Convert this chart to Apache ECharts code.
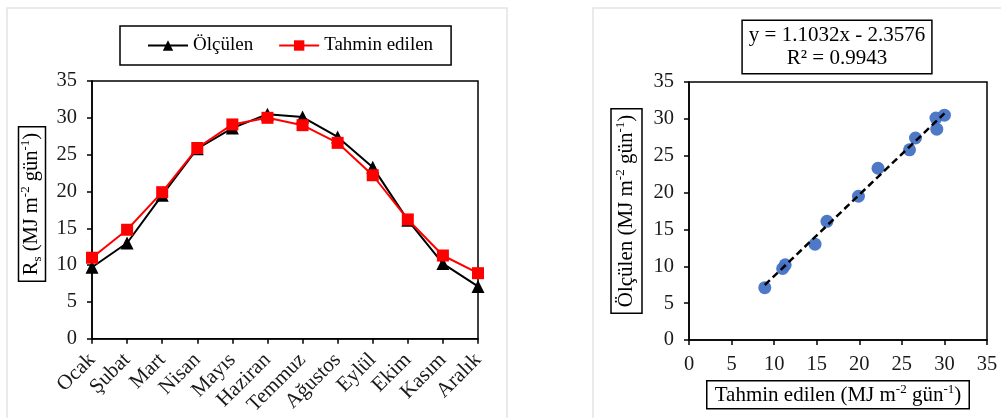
<!DOCTYPE html>
<html><head><meta charset="utf-8">
<script src="https://cdn.jsdelivr.net/npm/echarts@6/dist/echarts.min.js"></script>
<style>html,body{margin:0;padding:0;background:#fff}#c{width:1001px;height:418px}</style>
</head><body><div id="c"></div>
<script>
const months = ['Ocak','Şubat','Mart','Nisan','Mayıs','Haziran','Temmuz','Ağustos','Eylül','Ekim','Kasım','Aralık'];
const olculen = [9.7, 13.0, 19.5, 25.8, 28.6, 30.5, 30.1, 27.4, 23.3, 16.1, 10.2, 7.1];
const tahmin  = [11.0, 14.8, 19.9, 25.9, 29.1, 30.0, 29.0, 26.6, 22.2, 16.2, 11.3, 8.9];
const axisMin = 0, axisMax = 35, axisStep = 5;
const slope = 1.1032, intercept = -2.3576, r2 = 0.9943;
const seriesNames = ['Ölçülen', 'Tahmin edilen'];
const leftYName = '{n|R}{sub|s}{n| (MJ m}{sup|-2}{n| gün}{sup|-1}{n|)}';
const rightYName = '{n|Ölçülen (MJ m}{sup|-2}{n| gün}{sup|-1}{n|)}';
const rightXName = '{n|Tahmin edilen (MJ m}{sup|-2}{n| gün}{sup|-1}{n|)}';

const FF = "'Liberation Serif','Times New Roman',serif";
const FS = 20.5;   // tick labels
const FN = 21;     // axis names / equation
const FL = 19;     // legend
const scatterData = tahmin.map((t, i) => [t, olculen[i]]);
const xs = tahmin.slice().sort((a, b) => a - b);
const trend = [xs[0], xs[xs.length - 1]].map(x => [x, slope * x + intercept]);

function mkRich(fs) {
  return {
    n: {fontFamily: FF, fontSize: fs, color: '#000', fill: '#000', lineHeight: 25},
    sup: {fontFamily: FF, fontSize: 13, color: '#000', fill: '#000', lineHeight: 25, verticalAlign: 'top'},
    sub: {fontFamily: FF, fontSize: 13, color: '#000', fill: '#000', lineHeight: 25, verticalAlign: 'bottom'}
  };
}
const rich = mkRich(FN);
const boxStyle = {fontFamily: FF, fontSize: FN, color: '#000', borderColor: '#000', borderWidth: 1.5, rich: rich};

const chart = echarts.init(document.getElementById('c'), null, {renderer: 'canvas'});
chart.setOption({
  animation: false,
  backgroundColor: '#fff',
  textStyle: {fontFamily: FF},
  graphic: [
    {type: 'rect', shape: {x: 7, y: 8, width: 500, height: 430}, style: {fill: 'none', stroke: '#e3e3e3', lineWidth: 1.5}, z: -10},
    {type: 'rect', shape: {x: 593, y: 8, width: 430, height: 430}, style: {fill: 'none', stroke: '#e3e3e3', lineWidth: 1.5}, z: -10},
    {type: 'text', x: 837, y: 47, style: {
      text: 'y = ' + slope.toFixed(4) + 'x - ' + Math.abs(intercept).toFixed(4) + '\nR² = ' + r2.toFixed(4),
      fontFamily: FF, fontSize: FN, fill: '#000', lineHeight: 23, align: 'center', verticalAlign: 'middle',
      borderColor: '#000', borderWidth: 1.5, padding: [3, 6, 3, 6], backgroundColor: '#fff'
    }},
    {type: 'text', x: 32, y: 204, rotation: Math.PI / 2, style: {
      text: leftYName, rich: mkRich(20.5),
      fontFamily: FF, fontSize: 20.5, fill: '#000', align: 'center', verticalAlign: 'middle',
      borderColor: '#000', borderWidth: 1.5, padding: [1, 6, 1, 6]
    }}
  ],
  legend: {
    data: seriesNames,
    left: 120, top: 26,
    padding: [10, 18, 10, 27],
    borderColor: '#000', borderWidth: 1.5,
    itemWidth: 40, itemHeight: 13, itemGap: 25,
    textStyle: {fontFamily: FF, fontSize: FL, color: '#000'}
  },
  grid: [
    {left: 92, right: 523, top: 81, bottom: 79, show: true, borderColor: '#000', borderWidth: 1.5, containLabel: false},
    {left: 689, right: 14, top: 82, bottom: 78, show: true, borderColor: '#000', borderWidth: 1.5, containLabel: false}
  ],
  xAxis: [
    {gridIndex: 0, type: 'category', data: months, boundaryGap: false,
     axisLine: {lineStyle: {color: '#000', width: 1.5}},
     axisTick: {show: true, length: 5, inside: false, lineStyle: {color: '#000', width: 1.5}},
     axisLabel: {rotate: 45, margin: 18, fontFamily: FF, fontSize: FN, color: '#1a1a1a', interval: 0},
     splitLine: {show: false}},
    {gridIndex: 1, type: 'value', min: axisMin, max: axisMax, interval: axisStep,
     name: rightXName,
     nameLocation: 'middle', nameGap: 38,
     nameTextStyle: Object.assign({}, boxStyle, {padding: [2, 8, 1, 8]}),
     axisLine: {onZero: false, lineStyle: {color: '#000', width: 1.5}},
     axisTick: {length: 5, lineStyle: {color: '#000', width: 1.5}},
     axisLabel: {margin: 14, fontFamily: FF, fontSize: FS, color: '#1a1a1a'},
     splitLine: {show: false}},
  ],
  yAxis: [
    {gridIndex: 0, type: 'value', min: axisMin, max: axisMax, interval: axisStep,
     axisLine: {show: true, lineStyle: {color: '#000', width: 1.5}},
     axisTick: {show: true, length: 5, lineStyle: {color: '#000', width: 1.5}},
     axisLabel: {margin: 15, fontFamily: FF, fontSize: FS, color: '#1a1a1a'},
     splitLine: {show: false}},
    {gridIndex: 1, type: 'value', min: axisMin, max: axisMax, interval: axisStep,
     name: rightYName,
     nameLocation: 'middle', nameGap: 47,
     nameTextStyle: Object.assign({}, boxStyle, {padding: [3, 6, 3, 6]}),
     axisLine: {show: true, onZero: false, lineStyle: {color: '#000', width: 1.5}},
     axisTick: {show: true, length: 5, lineStyle: {color: '#000', width: 1.5}},
     axisLabel: {margin: 15, fontFamily: FF, fontSize: FS, color: '#1a1a1a'},
     splitLine: {show: false}}
  ],
  series: [
    {name: seriesNames[0], type: 'line', xAxisIndex: 0, yAxisIndex: 0, data: olculen,
     symbol: 'triangle', symbolSize: 13, showAllSymbol: true,
     lineStyle: {color: '#000', width: 2}, itemStyle: {color: '#000'}, z: 2},
    {name: seriesNames[1], type: 'line', xAxisIndex: 0, yAxisIndex: 0, data: tahmin,
     symbol: 'rect', symbolSize: 12, showAllSymbol: true,
     lineStyle: {color: '#ff0000', width: 2}, itemStyle: {color: '#ff0000'}, z: 3},
    {name: 'scatter', type: 'scatter', xAxisIndex: 1, yAxisIndex: 1, data: scatterData,
     symbolSize: 13, itemStyle: {color: '#4472c4', opacity: 0.95}, z: 2},
    {name: 'trend', type: 'line', xAxisIndex: 1, yAxisIndex: 1, data: trend,
     symbol: 'none', lineStyle: {color: '#000', width: 2.5, type: [7, 4]}, z: 3}
  ]
});
</script></body></html>
